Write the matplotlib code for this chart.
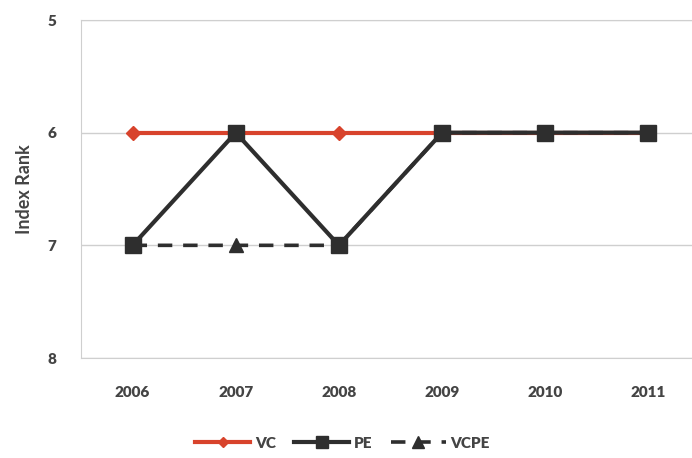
import numpy as np
import matplotlib.pyplot as plt

years = ['2006', '2007', '2008', '2009', '2010', '2011']
vc = [6, 6, 6, 6, 6, 6]
pe = [7, 6, 7, 6, 6, 6]
vcpe = [7, 7, 7, 6, 6, 6]

plt.rcParams['font.family'] = ['Lato', 'DejaVu Sans']

fig = plt.figure(figsize=(6.92, 4.58), dpi=100)
# plot area runs slightly past the right edge of the picture
ax = fig.add_axes([81 / 692, 1 - 358 / 458, 619 / 692, 338 / 458])

x = np.arange(len(years))
red = '#d8432c'
dark = '#2e2e2e'

ax.plot(x, vc, color=red, lw=3, marker='D', ms=7, label='VC', zorder=3)
ax.plot(x, vcpe, color=dark, lw=2.6, ls=(0, (4, 3)), marker='^', ms=10,
        label='VCPE', zorder=4)
ax.plot(x, pe, color=dark, lw=3, marker='s', ms=11.5, label='PE', zorder=5)

ax.set_xlim(-0.5, len(years) - 0.5)
ax.set_ylim(8, 5)
ax.set_yticks([5, 6, 7, 8])
ax.set_xticks(x)
ax.set_xticklabels(years)

ax.grid(axis='y', color='#cfcfcf', lw=1)
ax.set_axisbelow(True)
for side in ['left', 'bottom', 'top']:
    ax.spines[side].set_color('#cfcfcf')
ax.spines['right'].set_visible(False)

ax.tick_params(length=0, colors='#444444', labelsize=11)
ax.tick_params(axis='y', pad=18)
ax.tick_params(axis='x', pad=20)
for lab in ax.get_xticklabels() + ax.get_yticklabels():
    lab.set_fontweight('heavy')

ax.set_ylabel('Index Rank', fontsize=13, fontweight='bold', color='#444444', labelpad=10)

handles, labels = ax.get_legend_handles_labels()
order = [0, 2, 1]
fig.legend([handles[i] for i in order], [labels[i] for i in order],
           loc='lower center', bbox_to_anchor=(0.495, -0.012), ncol=3, frameon=False,
           prop={'weight': 'heavy', 'size': 11}, labelcolor='#444444',
           handlelength=3.6, handletextpad=0.3, columnspacing=1.2, markerscale=0.8)

plt.savefig('out.png', dpi=100)
